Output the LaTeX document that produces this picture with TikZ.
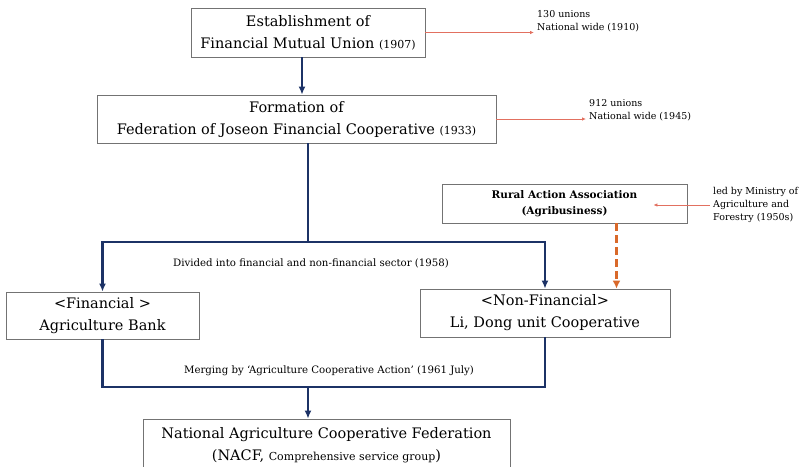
\documentclass[tikz,border=0pt]{standalone}
\usepackage{fontspec}
\setmainfont{DejaVu Serif}
\usetikzlibrary{arrows.meta}
\definecolor{navy}{RGB}{28,50,102}
\definecolor{redline}{RGB}{226,112,96}
\definecolor{orangeline}{RGB}{217,105,42}
\newcommand{\smallyr}[1]{{\fontsize{11}{12}\selectfont #1}}
\begin{document}
\begin{tikzpicture}[x=1pt,y=-1pt,
    box/.style={draw=black!55,line width=0.8pt,align=center,inner sep=0pt,font=\fontsize{14.5}{22}\selectfont},
    notebox/.style={anchor=west,align=left,inner sep=3pt,font=\fontsize{9.5}{13}\selectfont},
    lbl/.style={inner sep=1pt,font=\fontsize{10.2}{12}\selectfont},
    trunk/.style={draw=navy,line width=2.6pt},
    flow/.style={trunk,-{Latex[length=8pt,width=7pt]}},
    noteflow/.style={draw=redline,line width=0.8pt,-{Latex[length=4pt,width=3.5pt]}},
    dashflow/.style={draw=orangeline,line width=2.6pt,dash pattern=on 8pt off 4pt,-{Latex[length=8pt,width=8pt]}}]
    \path[use as bounding box,clip] (0,0) rectangle (808,466);
    \node[box,minimum width=234,minimum height=49] (estab) at (308,32.5) {Establishment of\\Financial Mutual Union \smallyr{(1907)}};
    \node[box,minimum width=399,minimum height=48] (form) at (296.5,119) {Formation of\\Federation of Joseon Financial Cooperative \smallyr{(1933)}};
    \node[box,minimum width=245,minimum height=39,font=\fontsize{10.5}{16}\selectfont\bfseries] (rural) at (564.5,203.5) {Rural Action Association\\(Agribusiness)};
    \node[box,minimum width=193,minimum height=47] (fin) at (102.5,315.5) {<Financial >\\Agriculture Bank};
    \node[box,minimum width=250,minimum height=48] (nonfin) at (545,313) {<Non-Financial>\\Li, Dong unit Cooperative};
    \node[box,minimum width=367,minimum height=52] (nacf) at (326.5,445) {National Agriculture Cooperative Federation\\(NACF, \smallyr{Comprehensive service group})};
    \node[notebox] (note1) at (534,21.5) {130 unions\\National wide (1910)};
    \node[notebox] (note2) at (586,110.5) {912 unions\\National wide (1945)};
    \node[notebox] (note3) at (710,205) {led by Ministry of\\Agriculture and\\Forestry (1950s)};
    \node[lbl] (divlbl) at (311,263) {Divided into financial and non-financial sector (1958)};
    \node[lbl] (mergelbl) at (329,371) {Merging by `Agriculture Cooperative Action' (1961 July)};
    \coordinate (split) at (308,242);
    \coordinate (merge) at (308,387);
    \coordinate (ruralin) at ([xshift=-34]rural.east);
    \coordinate (ruralout) at ([xshift=52]rural.south);
    \draw[flow] ([xshift=-6]estab.south) -- ([xshift=-6]estab.south |- form.north);
    \draw[trunk] (form.south -| split) -- (split);
    \draw[flow] (split) -| (fin.north);
    \draw[flow] (split) -| (nonfin.north);
    \draw[trunk] (fin.south) |- (merge) -| (nonfin.south);
    \draw[flow] (merge) -- (merge |- nacf.north);
    \draw[noteflow] (estab.east) -- (estab.east -| note1.west);
    \draw[noteflow] (form.east) -- (form.east -| note2.west);
    \draw[noteflow] (note3.west) -- (note3.west -| ruralin);
    \draw[dashflow] (ruralout) -- (ruralout |- nonfin.north);
\end{tikzpicture}
\end{document}
